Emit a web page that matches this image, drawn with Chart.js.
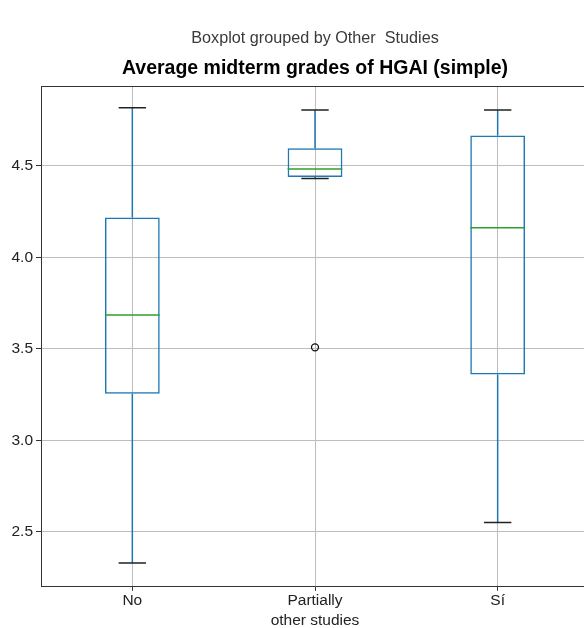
<!DOCTYPE html>
<html>
<head>
<meta charset="utf-8">
<script src="https://cdn.jsdelivr.net/npm/chart.js@4.4.0/dist/chart.umd.min.js"></script>
<style>
  html, body { margin: 0; padding: 0; background: #fff; overflow: hidden; }
</style>
</head>
<body>
<canvas id="boxChart" width="630" height="634"></canvas>
<script>
// values
const groups = ["No", "Partially", "Sí"];
const whiskerLow = [2.33, 4.431, 2.551];
const q1 = [3.254, 4.439, 3.36];
const medians = [3.685, 4.483, 4.161];
const q3 = [4.217, 4.596, 4.666];
const whiskerHigh = [4.817, 4.804, 4.804];
const outliers = [null, 3.508, null];
const yTicks = [2.5, 3.0, 3.5, 4.0, 4.5];

Chart.defaults.font.family = "'Liberation Sans', Arial, sans-serif";
Chart.defaults.color = "#222";

// whiskers, caps, medians and the top spine
const boxParts = {
  id: "boxParts",
  afterDatasetsDraw(chart) {
    const ctx = chart.ctx;
    const x = chart.scales.x;
    const y = chart.scales.y;
    const meta = chart.getDatasetMeta(0);
    const area = chart.chartArea;
    ctx.save();
    ctx.lineWidth = 1.5;
    groups.forEach((g, i) => {
      const cx = x.getPixelForValue(i);
      const half = meta.data[i].width / 2;
      const cap = half / 2;
      // whiskers
      ctx.strokeStyle = "#1f77b4";
      ctx.beginPath();
      ctx.moveTo(cx, y.getPixelForValue(q3[i]));
      ctx.lineTo(cx, y.getPixelForValue(whiskerHigh[i]));
      ctx.moveTo(cx, y.getPixelForValue(q1[i]));
      ctx.lineTo(cx, y.getPixelForValue(whiskerLow[i]));
      ctx.stroke();
      // median
      ctx.strokeStyle = "#2ca02c";
      ctx.beginPath();
      ctx.moveTo(cx - half, y.getPixelForValue(medians[i]));
      ctx.lineTo(cx + half, y.getPixelForValue(medians[i]));
      ctx.stroke();
      // caps
      ctx.strokeStyle = "#222";
      ctx.beginPath();
      ctx.moveTo(cx - cap, y.getPixelForValue(whiskerHigh[i]));
      ctx.lineTo(cx + cap, y.getPixelForValue(whiskerHigh[i]));
      ctx.moveTo(cx - cap, y.getPixelForValue(whiskerLow[i]));
      ctx.lineTo(cx + cap, y.getPixelForValue(whiskerLow[i]));
      ctx.stroke();
    });
    // top and right spines
    ctx.strokeStyle = "#333";
    ctx.lineWidth = 1;
    ctx.beginPath();
    ctx.moveTo(area.left, Math.round(area.top) + 0.5);
    ctx.lineTo(area.right, Math.round(area.top) + 0.5);
    ctx.lineTo(area.right, area.bottom);
    ctx.stroke();
    ctx.restore();
  }
};

new Chart(document.getElementById("boxChart"), {
  type: "bar",
  data: {
    labels: groups,
    datasets: [
      {
        type: "bar",
        data: groups.map((g, i) => [q1[i], q3[i]]),
        backgroundColor: "rgba(0,0,0,0)",
        borderColor: "#1f77b4",
        borderWidth: 1.5,
        borderSkipped: false,
        barPercentage: 0.3,
        categoryPercentage: 1.0
      },
      {
        type: "line",
        data: outliers,
        showLine: false,
        pointRadius: 3.5,
        pointBorderWidth: 1.3,
        pointBorderColor: "#111",
        pointBackgroundColor: "rgba(0,0,0,0)"
      }
    ]
  },
  options: {
    responsive: false,
    animation: false,
    layout: { padding: { left: 0, right: 41, top: 0, bottom: 0 } },
    plugins: {
      legend: { display: false },
      tooltip: { enabled: false },
      title: {
        display: true,
        fullSize: false,
        text: "Boxplot grouped by Other  Studies",
        color: "#3a3a3a",
        font: { size: 16.2, weight: "normal" },
        padding: { top: 29, bottom: 8 }
      },
      subtitle: {
        display: true,
        fullSize: false,
        text: "Average midterm grades of HGAI (simple)",
        color: "#000",
        font: { size: 19.5, weight: "bold" },
        padding: { top: 0, bottom: 6.3 }
      }
    },
    scales: {
      x: {
        offset: true,
        grid: { offset: false, color: "#bdbdbd", lineWidth: 1, tickColor: "#333", tickLength: 4 },
        border: { color: "#333", width: 1 },
        ticks: { padding: 1, font: { size: 15.5 }, color: "#222" },
        title: {
          display: true,
          text: "other studies",
          color: "#222",
          font: { size: 15.5 },
          padding: { top: 0, bottom: 4 }
        }
      },
      y: {
        min: 2.2,
        max: 4.935,
        afterBuildTicks: (scale) => {
          scale.ticks = yTicks.map((v) => ({ value: v }));
        },
        afterFit: (scale) => {
          scale.width = 41;
        },
        grid: { color: "#bdbdbd", lineWidth: 1, tickColor: "#333", tickLength: 5 },
        border: { color: "#333", width: 1 },
        ticks: {
          padding: 3,
          font: { size: 15.5 },
          color: "#222",
          callback: (v) => Number(v).toFixed(1)
        }
      }
    }
  },
  plugins: [boxParts]
});
</script>
</body>
</html>
